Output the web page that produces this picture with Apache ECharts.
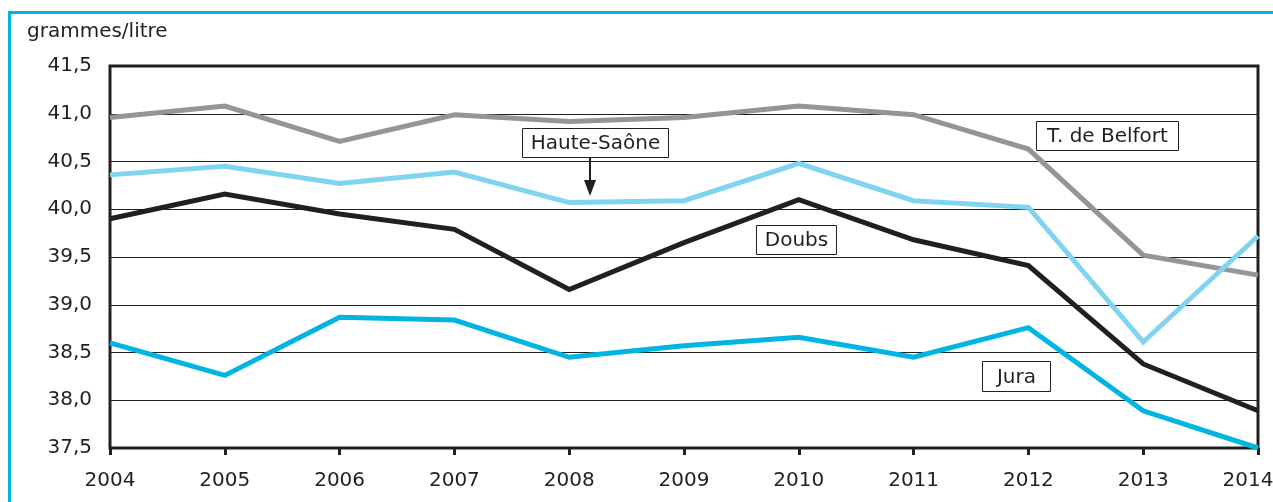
<!DOCTYPE html>
<html><head><meta charset="utf-8">
<script src="https://cdn.jsdelivr.net/npm/echarts@6/dist/echarts.min.js"></script>
<style>html,body{margin:0;padding:0;background:#fff}#c{width:1273px;height:502px}</style>
</head><body><div id="c"></div>
<script>
const years = ['2004','2005','2006','2007','2008','2009','2010','2011','2012','2013','2014'];
const belfort = [40.96,41.08,40.71,40.99,40.92,40.96,41.08,40.99,40.63,39.52,39.31];
const hauteSaone = [40.36,40.45,40.27,40.39,40.07,40.09,40.48,40.09,40.02,38.61,39.72];
const doubs = [39.90,40.16,39.95,39.79,39.16,39.65,40.10,39.68,39.41,38.38,37.89];
const jura = [38.60,38.26,38.87,38.84,38.45,38.57,38.66,38.45,38.76,37.89,37.50];
const yTicks = {min:37.5, max:41.5, interval:0.5};
const unitLabel = 'grammes/litre';

const chart = echarts.init(document.getElementById('c'), null, {renderer:'canvas'});
const font = '"DejaVu Sans", "Liberation Sans", Arial, sans-serif';
function line(name, data, color){
  return {name, type:'line', data, symbol:'none', smooth:false,
    lineStyle:{color, width:5, cap:'butt', join:'miter'}, itemStyle:{color}, z:3};
}
function labelBox(text, x, y, w, h){
  return {type:'group', left:x, top:y, z:10, children:[
    {type:'rect', shape:{x:0,y:0,width:w,height:h}, style:{fill:'#fff', stroke:'#231f20', lineWidth:1}},
    {type:'text', x:w/2, y:h/2+1, style:{text, fill:'#231f20', font:'20px '+font, align:'center', verticalAlign:'middle'}}
  ]};
}
const xData = years.map((y, i) => i === years.length - 1
  ? {value:y, textStyle:{padding:[0,20,0,0]}} : y);
chart.setOption({
  animation:false,
  backgroundColor:'#fff',
  grid:{left:110, right:15, top:66, bottom:54, outerBoundsMode:'none', containLabel:false,
    show:true, borderColor:'#231f20', borderWidth:3, backgroundColor:'transparent'},
  xAxis:{type:'category', data:xData, boundaryGap:false,
    axisLine:{show:false},
    axisTick:{show:true, length:7, alignWithLabel:true, lineStyle:{color:'#231f20', width:3}},
    axisLabel:{color:'#231f20', fontSize:20, fontFamily:font, margin:23, hideOverlap:false},
    splitLine:{show:false}},
  yAxis:{type:'value', min:yTicks.min, max:yTicks.max, interval:yTicks.interval,
    axisLine:{show:false}, axisTick:{show:false},
    axisLabel:{color:'#231f20', fontSize:20, fontFamily:font, margin:18,
      formatter:v=>v.toFixed(1).replace('.',',')},
    splitLine:{show:true, lineStyle:{color:'#231f20', width:1}}},
  series:[
    line('T. de Belfort', belfort, '#939598'),
    line('Haute-Saône', hauteSaone, '#80d4ef'),
    line('Doubs', doubs, '#231f20'),
    line('Jura', jura, '#00b5e2')
  ],
  graphic:[
    {type:'line', shape:{x1:9.5,y1:12,x2:9.5,y2:502}, style:{stroke:'#00b5e2', lineWidth:3}, z:20},
    {type:'line', shape:{x1:8,y1:12.5,x2:1273,y2:12.5}, style:{stroke:'#00b5e2', lineWidth:3}, z:20},
    {type:'text', left:27, top:22, style:{text:unitLabel, fill:'#231f20', font:'20px '+font}, z:20},
    labelBox('Haute-Saône', 522, 128, 146, 29),
    labelBox('T. de Belfort', 1036, 121, 142, 29),
    labelBox('Doubs', 756, 225, 80, 29),
    labelBox('Jura', 982, 361, 68, 30),
    {type:'line', shape:{x1:590,y1:158,x2:590,y2:184}, style:{stroke:'#231f20', lineWidth:2}, z:10},
    {type:'polygon', shape:{points:[[584,180],[596,180],[590,196]]}, style:{fill:'#231f20'}, z:10}
  ]
});
</script></body></html>
